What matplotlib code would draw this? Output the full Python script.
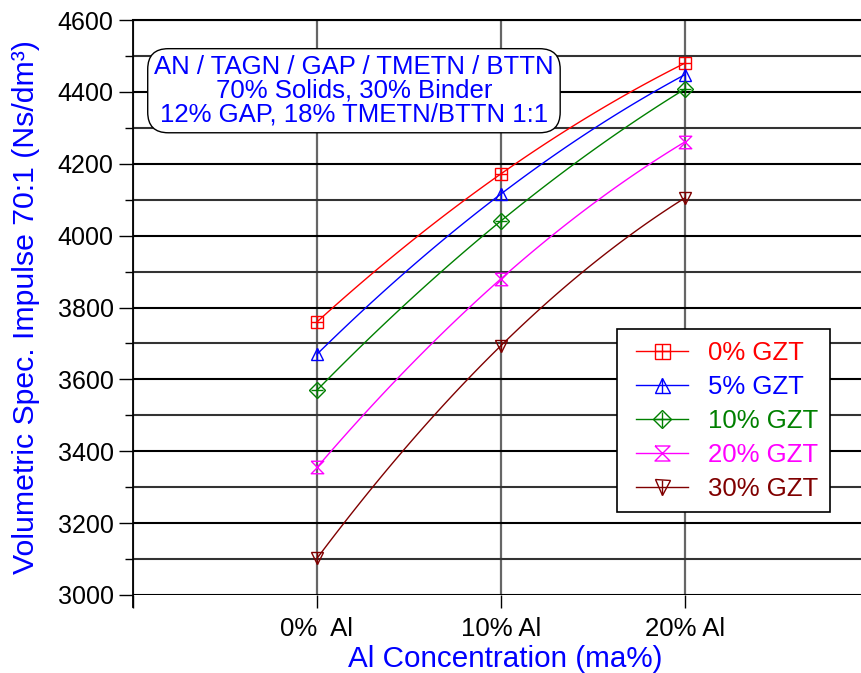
import numpy as np
import matplotlib
matplotlib.use("Agg")
import matplotlib.pyplot as plt
from matplotlib.legend_handler import HandlerTuple
from matplotlib.lines import Line2D

plt.rcParams['font.family'] = ['Liberation Sans', 'DejaVu Sans']

categories = ["0%  Al", "10% Al", "20% Al"]
series_names = ["0% GZT", "5% GZT", "10% GZT", "20% GZT", "30% GZT"]
gzt0 = [3760, 4172, 4480]
gzt5 = [3670, 4116, 4448]
gzt10 = [3570, 4041, 4408]
gzt20 = [3355, 3880, 4261]
gzt30 = [3102, 3694, 4105]

series = [gzt0, gzt5, gzt10, gzt20, gzt30]
colors = ['#ff0000', '#0000ff', '#008000', '#ff00ff', '#800000']
hourglass = [(-1, 1), (1, 1), (-1, -1), (1, -1), (-1, 1)]
markers = [('s', '+'), ('^', '|'), ('D', '+'), (hourglass, None), ('v', '|')]

fig = plt.figure(figsize=(8.61, 6.73), dpi=100)
ax = fig.add_axes([133/861, 1-595/673, 1-133/861, 575/673])

x = np.arange(len(categories))
xs = np.linspace(0, 2, 100)
handles = []
for vals, c, (m1, m2), name in zip(series, colors, markers, series_names):
    coef = np.polyfit(x, vals, 2)
    ax.plot(xs, np.polyval(coef, xs), color=c, lw=1, zorder=3)
    ms1 = 9 if m1 != 'D' else 8
    ax.plot(x, vals, ls='none', marker=m1, ms=ms1, mfc='none', mec=c, mew=1, zorder=4)
    h1 = Line2D([], [], color=c, lw=1, marker=m1, ms=ms1 * 1.2, mfc='none', mec=c, mew=1)
    if m2 is not None:
        ax.plot(x, vals, ls='none', marker=m2, ms=9, mec=c, mew=1, zorder=4)
        h2 = Line2D([], [], ls='none', marker=m2, ms=10.8, mec=c, mew=1)
        handles.append((h1, h2))
    else:
        handles.append((h1,))

ax.set_xlim(-1, 2 + 176/184)
ax.set_ylim(3000, 4600)
ax.set_xticks([-1, 0, 1, 2])
ax.set_xticklabels([''] + categories, fontsize=18.5)
ax.set_yticks(np.arange(3000, 4601, 200))
ax.set_yticks(np.arange(3100, 4600, 200), minor=True)
ax.tick_params(axis='y', which='major', length=10, width=1, labelsize=18, direction='out', pad=4)
ax.tick_params(axis='y', which='minor', length=5.5, width=1, direction='out')
ax.tick_params(axis='x', which='major', length=9, width=1, direction='out', pad=7)
ax.grid(True, which='major', axis='y', color='black', lw=1.5)
ax.grid(True, which='minor', axis='y', color='#333333', lw=1.5)
ax.grid(True, which='major', axis='x', color='#666666', lw=1.6)
for s in ['right', 'bottom']:
    ax.spines[s].set_visible(False)
ax.spines['top'].set_linewidth(1.5)
ax.spines['left'].set_linewidth(1.3)
ax.spines['left'].set_bounds(2966, 4600)

ax.set_xlabel('Al Concentration (ma%)', color='#0000ff', fontsize=21.3)
ax.xaxis.set_label_coords((505 - 133) / 728, (595 - 645) / 575)
ax.set_ylabel('Volumetric Spec. Impulse 70:1 (Ns/dm³)', color='#0000ff', fontsize=21.8)
ax.yaxis.set_label_coords((40 - 133) / 728, 0.5)

ax.text(0.3035, 0.877, 'AN / TAGN / GAP / TMETN / BTTN\n70% Solids, 30% Binder\n12% GAP, 18% TMETN/BTTN 1:1',
        transform=ax.transAxes, ha='center', va='center', color='#0000ff', fontsize=18.5,
        linespacing=0.98, zorder=6,
        bbox=dict(boxstyle='round,pad=0.25,rounding_size=0.8', fc='white', ec='black', lw=1))

leg = ax.legend(handles, series_names, handler_map={tuple: HandlerTuple(ndivide=1, xpad=0.27)},
                loc='upper left', bbox_to_anchor=((617-133)/728, (595-329)/575),
                fontsize=18.5, frameon=True, fancybox=False, edgecolor='black',
                handlelength=2.33, labelspacing=0.39, borderpad=0.45, handletextpad=0.78,
                borderaxespad=0, framealpha=1)
leg.get_frame().set_linewidth(1.2)
for t, c in zip(leg.get_texts(), colors):
    t.set_color(c)
leg.set_zorder(7)
fig.canvas.draw()
bb = leg.get_frame().get_bbox()
leg.get_frame().set_width(bb.width + 5)

fig.savefig('out.png', dpi=100)
